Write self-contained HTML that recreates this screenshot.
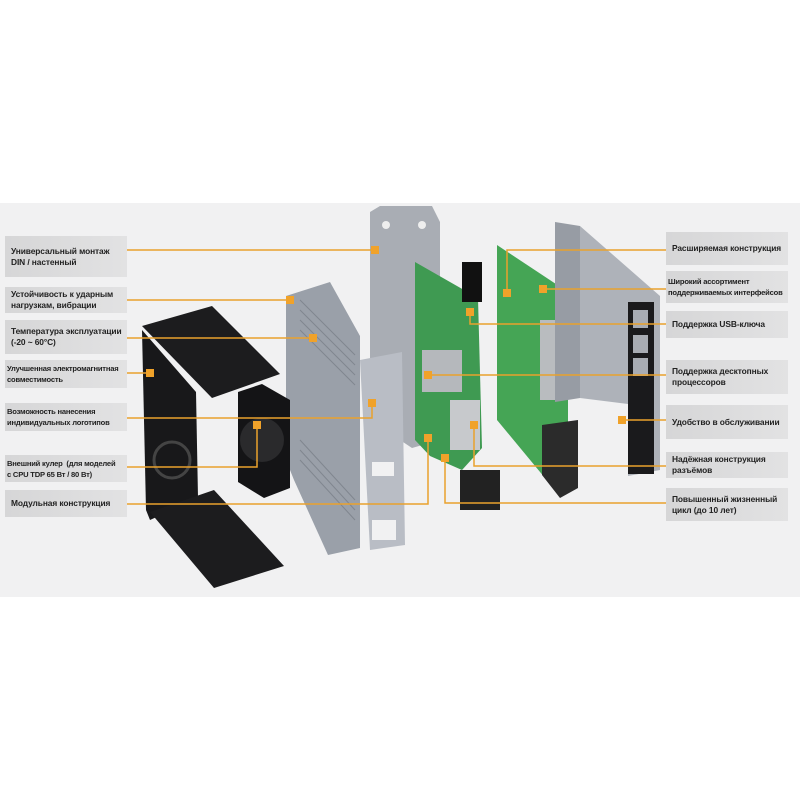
<!DOCTYPE html>
<html><head><meta charset="utf-8"><style>
body{margin:0;width:800px;height:800px;background:#fff;overflow:hidden;font-family:"Liberation Sans","DejaVu Sans",sans-serif}
.band{position:absolute;left:0;top:203px;width:800px;height:394px;background:#f1f1f2}
.lb{position:absolute;background:linear-gradient(90deg,#d6d6d7,#e2e2e3);font-size:8.4px;font-weight:bold;color:#222;line-height:11px;display:flex;align-items:center;box-sizing:border-box;padding-left:6px;white-space:nowrap;letter-spacing:-0.1px}
.l{left:5px;width:122px}.r{left:666px;width:122px}
.s{font-size:7.6px;letter-spacing:-0.2px;padding-left:2px}
</style></head><body>
<div class="band"></div>
<svg width="800" height="800" style="position:absolute;left:0;top:0">
<polygon points="370,212 380,206 432,206 440,222 440,440 412,448 370,420" fill="#a9adb4"/>
<circle cx="386" cy="225" r="4" fill="#eee"/><circle cx="422" cy="225" r="4" fill="#eee"/>
<polygon points="286,296 330,282 360,336 360,548 328,555 294,480 286,460" fill="#9aa0a9"/>
<g stroke="#80868f" stroke-width="1">
<line x1="300" y1="300" x2="355" y2="355"/><line x1="300" y1="310" x2="355" y2="365"/><line x1="300" y1="320" x2="355" y2="375"/><line x1="300" y1="330" x2="355" y2="385"/><line x1="300" y1="440" x2="355" y2="500"/><line x1="300" y1="450" x2="355" y2="510"/><line x1="300" y1="460" x2="355" y2="520"/></g>
<polygon points="360,360 402,352 405,545 370,550" fill="#b9bdc5"/>
<rect x="372" y="462" width="22" height="14" fill="#f1f1f2"/><rect x="372" y="520" width="24" height="20" fill="#f1f1f2"/>
<polygon points="142,326 212,306 280,374 212,398" fill="#1c1c1e"/>
<polygon points="142,330 196,392 198,498 150,520 146,510" fill="#18181a"/>
<polygon points="150,512 214,490 284,566 214,588" fill="#1c1c1e"/>
<circle cx="172" cy="460" r="18" fill="none" stroke="#444" stroke-width="3"/>
<polygon points="238,392 262,384 290,400 290,488 264,498 238,482" fill="#141416"/>
<circle cx="262" cy="440" r="22" fill="#2a2a2c"/>
<polygon points="415,262 478,298 482,448 462,470 430,456 415,440" fill="#3f9a52"/>
<rect x="422" y="350" width="40" height="42" fill="#b5b8bc"/>
<rect x="450" y="400" width="30" height="50" fill="#c7c9cc"/>
<rect x="462" y="262" width="20" height="40" fill="#111"/>
<rect x="460" y="470" width="40" height="40" fill="#222"/>
<polygon points="497,245 568,292 568,440 545,478 497,420" fill="#45a555"/>
<rect x="540" y="320" width="26" height="80" fill="#b9bcbf"/>
<polygon points="542,425 578,420 578,488 560,498 542,475" fill="#2b2b2b"/>
<polygon points="555,222 580,226 580,398 555,402" fill="#979ca4"/>
<polygon points="580,226 660,296 660,470 628,476 628,404 580,398" fill="#aeb2b9"/>
<rect x="628" y="302" width="26" height="172" fill="#1a1a1c"/>
<rect x="633" y="310" width="15" height="18" fill="#a8acb3"/><rect x="633" y="335" width="15" height="18" fill="#a8acb3"/><rect x="633" y="358" width="15" height="18" fill="#a8acb3"/>
<g stroke="#e9a12d" stroke-width="1.5" fill="none">
<polyline points="127,250 375,250"/>
<polyline points="127,300 290,300"/>
<polyline points="127,338 313,338"/>
<polyline points="127,373 150,373"/>
<polyline points="127,418 372,418 372,403"/>
<polyline points="127,467 257,467 257,425"/>
<polyline points="127,504 428,504 428,438"/>
<polyline points="666,250 507,250 507,293"/>
<polyline points="666,289 543,289"/>
<polyline points="666,324 470,324 470,312"/>
<polyline points="666,375 428,375"/>
<polyline points="666,420 622,420"/>
<polyline points="666,466 474,466 474,425"/>
<polyline points="666,503 445,503 445,458"/>
</g>
<g fill="#f0a22a">
<rect x="371" y="246" width="8" height="8"/><rect x="286" y="296" width="8" height="8"/><rect x="309" y="334" width="8" height="8"/><rect x="146" y="369" width="8" height="8"/><rect x="368" y="399" width="8" height="8"/><rect x="253" y="421" width="8" height="8"/><rect x="424" y="434" width="8" height="8"/>
<rect x="503" y="289" width="8" height="8"/><rect x="539" y="285" width="8" height="8"/><rect x="466" y="308" width="8" height="8"/><rect x="424" y="371" width="8" height="8"/><rect x="618" y="416" width="8" height="8"/><rect x="470" y="421" width="8" height="8"/><rect x="441" y="454" width="8" height="8"/>
</g>
</svg>
<div class="lb l" style="top:236px;height:41px">Универсальный монтаж<br>DIN / настенный</div>
<div class="lb l" style="top:287px;height:26px">Устойчивость к ударным<br>нагрузкам, вибрации</div>
<div class="lb l" style="top:320px;height:34px">Температура эксплуатации<br>(-20 ~ 60°C)</div>
<div class="lb l s" style="top:360px;height:28px">Улучшенная электромагнитная<br>совместимость</div>
<div class="lb l s" style="top:403px;height:28px">Возможность нанесения<br>индивидуальных логотипов</div>
<div class="lb l s" style="top:455px;height:27px">Внешний кулер &nbsp;(для моделей<br>с CPU TDP 65 Вт / 80 Вт)</div>
<div class="lb l" style="top:490px;height:27px">Модульная конструкция</div>
<div class="lb r" style="top:232px;height:33px">Расширяемая конструкция</div>
<div class="lb r s" style="top:271px;height:32px">Широкий ассортимент<br>поддерживаемых интерфейсов</div>
<div class="lb r" style="top:311px;height:27px">Поддержка USB-ключа</div>
<div class="lb r" style="top:360px;height:34px">Поддержка десктопных<br>процессоров</div>
<div class="lb r" style="top:405px;height:34px">Удобство в обслуживании</div>
<div class="lb r" style="top:452px;height:26px">Надёжная конструкция<br>разъёмов</div>
<div class="lb r" style="top:488px;height:33px">Повышенный жизненный<br>цикл (до 10 лет)</div>
</body></html>
